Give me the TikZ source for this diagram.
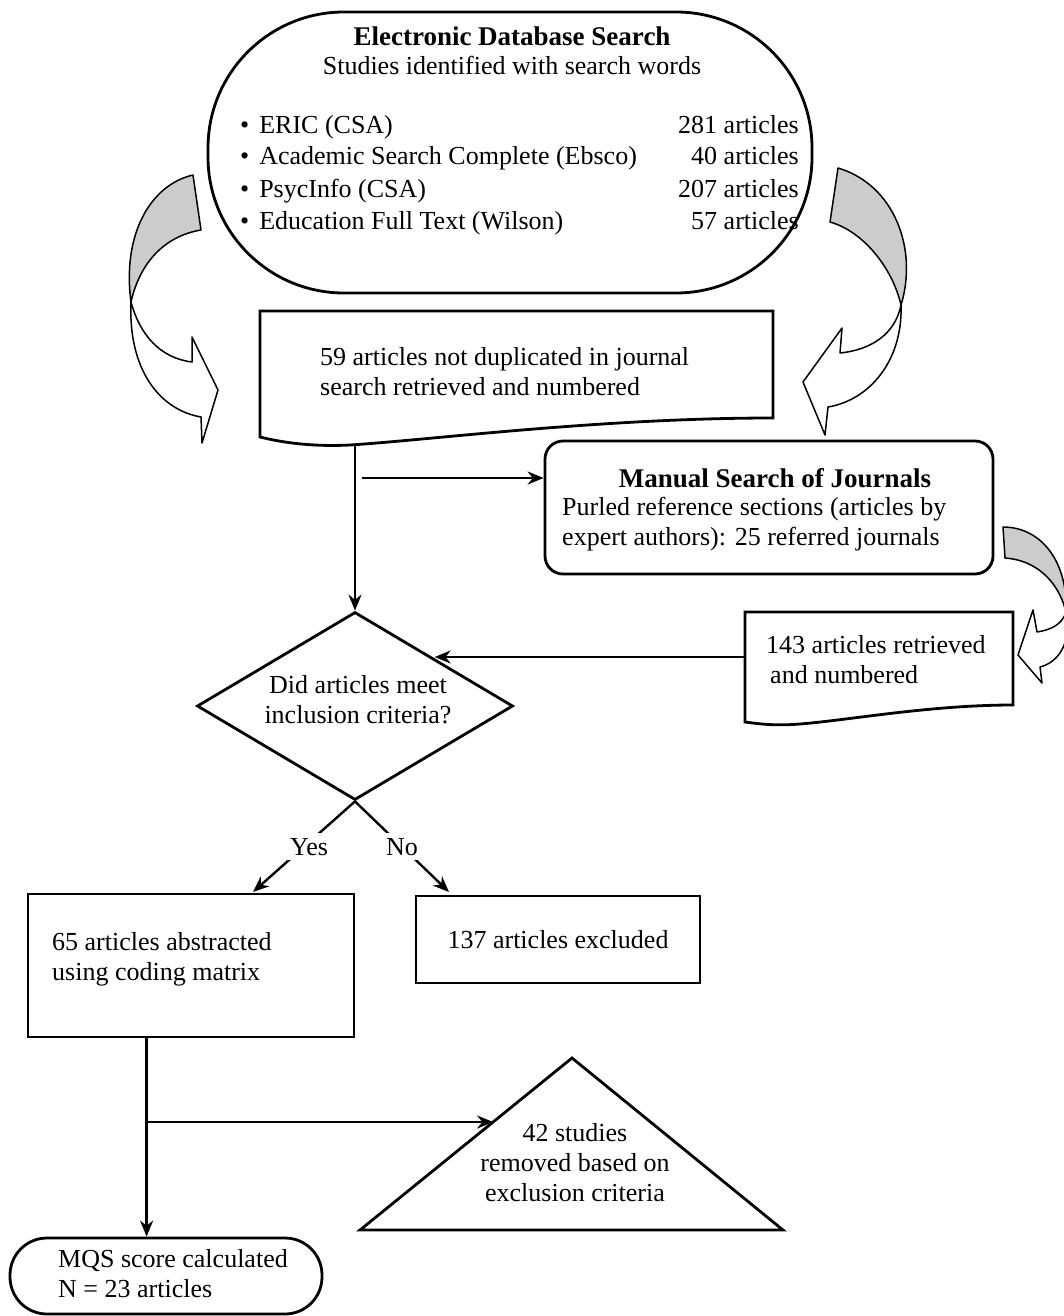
\documentclass[tikz,border=0pt]{standalone}
\usepackage{fontspec}
\setmainfont{Liberation Serif}
\usetikzlibrary{positioning, arrows.meta, shapes.geometric, calc}
\definecolor{bandgray}{RGB}{204,204,204}

\begin{document}
\begin{tikzpicture}[x=1pt, y=-1pt,
    every node/.style={font=\fontsize{26}{30}\selectfont, inner sep=0pt},
    heavy/.style={draw, line width=2.8pt},
    head/.style={font=\fontsize{27}{30}\selectfont\bfseries},
    link/.style={line width=2.4pt, -{Stealth[length=16pt, width=13pt]}},
    curl/.style={draw, line width=1.5pt, line join=round},
    choice/.style={fill=white, inner sep=5pt}]
    \useasboundingbox (0,0) rectangle (1064,1316);

    % Database search
    \node[heavy, rounded corners=136pt, minimum width=604pt, minimum height=281pt] (search) at (510,152.5) {};
    \node[head] (searchhead) at (512,36) {Electronic Database Search};
    \node (searchsub) at (512,65) {Studies identified with search words};
    \foreach \y/\db/\arts [count=\i] in {126/ERIC (CSA)/281, 157/Academic Search Complete (Ebsco)/40, 189/PsycInfo (CSA)/207, 221/Education Full Text (Wilson)/57} {
        \node[anchor=base west] (db\i) at (240,\y+8) {\textbullet\hspace{10pt}\db};
        \node[anchor=base east] (arts\i) at (799,\y+8) {\arts\ articles};
    }

    % Retrieved from databases
    \draw[heavy] (260,311) -- (773,311) -- (773,418) .. controls (600,418) and (430,440) .. (350,445) .. controls (310,447) and (280,442) .. (260,437) -- cycle;
    \node[anchor=west, align=left] (dbfound) at (320,372) {59 articles not duplicated in journal\\search retrieved and numbered};
    \coordinate (dbout) at (355,446);
    \coordinate (split) at (362,478);

    % Manual search
    \node[heavy, rounded corners=18pt, minimum width=448pt, minimum height=133pt] (manual) at (769,507.5) {};
    \node[head] (manualhead) at (775,478) {Manual Search of Journals};
    \node[anchor=west, align=left] (manualtext) at (562,524) {Purled reference sections (articles by\\expert authors): 25 referred journals};

    % Retrieved from journals
    \draw[heavy] (745,612) -- (1013,612) -- (1013,705) .. controls (930,705) and (850,720) .. (800,724) .. controls (775,726) and (760,724) .. (745,722) -- cycle;
    \node[anchor=west, align=left] (jfound) at (766,660) {143 articles retrieved\\\hspace{4pt}and numbered};
    \coordinate (jout) at (745,657);

    % Inclusion decision
    \node[heavy, diamond, aspect=1.7, minimum width=316pt, minimum height=188pt] (decide) at (355,706) {};
    \node[align=center] (decidetext) at (358,700) {Did articles meet\\inclusion criteria?};

    \draw[link] (dbout) -- (decide.north);
    \draw[link] (split) -- (split -| manual.west);
    \draw[link] (jout) -- (jout -| decide.north east);

    % Outcomes
    \node[heavy, minimum width=326pt, minimum height=143pt] (abstracted) at (191,965.5) {};
    \node[anchor=west, align=left] (abstext) at (52,959) {65 articles abstracted\\using coding matrix};
    \node[heavy, minimum width=284pt, minimum height=87pt] (excluded) at (558,939.5) {137 articles excluded};
    \coordinate (yesend) at (253,892);
    \coordinate (noend) at (449,892);
    \draw[link] (decide.south) -- node[choice, xshift=5pt] (yes) {Yes} (yesend);
    \draw[link] (decide.south) -- node[choice] (no) {No} (noend);

    % Exclusion and scoring
    \coordinate (apex) at (572,1058);
    \coordinate (baseleft) at (360,1230);
    \coordinate (baseright) at (783,1230);
    \draw[heavy] (apex) -- (baseright) -- (baseleft) -- cycle;
    \node[align=center] (removed) at (575,1163) {42 studies\\removed based on\\exclusion criteria};
    \node[heavy, rounded corners=37pt, minimum width=312pt, minimum height=76pt] (mqs) at (166,1276) {};
    \node[anchor=west, align=left] (mqstext) at (58,1274) {MQS score calculated\\N = 23 articles};
    \coordinate (branch) at (148,1122);
    \coordinate (sidehit) at ($(apex)!0.372!(baseleft)$);
    \draw[link] (abstracted.south west) ++(120,0) coordinate (trunk) -- (trunk |- mqs.north);
    \draw[link] (branch) -- (branch -| sidehit);

    % Curved arrows
    \filldraw[curl, fill=bandgray] (193,175) .. controls (150,185) and (122,235) .. (131,302) .. controls (140,262) and (165,236) .. (201,230) -- cycle;
    \filldraw[curl, fill=white] (131,302) .. controls (140,335) and (160,358) .. (192,362) -- (192,337) -- (218,390) -- (202,443) -- (201,417) .. controls (160,410) and (128,370) .. (131,302) -- cycle;
    \filldraw[curl, fill=bandgray] (838,168) .. controls (895,185) and (918,250) .. (901,305) .. controls (893,270) and (865,232) .. (830,222) -- cycle;
    \filldraw[curl, fill=white] (901,305) .. controls (895,335) and (870,350) .. (840,353) -- (842,328) -- (803,382) -- (825,435) -- (828,407) .. controls (870,400) and (903,360) .. (901,305) -- cycle;
    \filldraw[curl, fill=bandgray] (1003,527) .. controls (1040,527) and (1068,560) .. (1066,612) .. controls (1058,580) and (1035,560) .. (1005,558) -- cycle;
    \filldraw[curl, fill=white] (1066,612) .. controls (1062,625) and (1050,630) .. (1037,632) -- (1033,610) -- (1018,655) -- (1042,683) -- (1040,667) .. controls (1060,662) and (1072,640) .. (1066,612) -- cycle;
\end{tikzpicture}
\end{document}
